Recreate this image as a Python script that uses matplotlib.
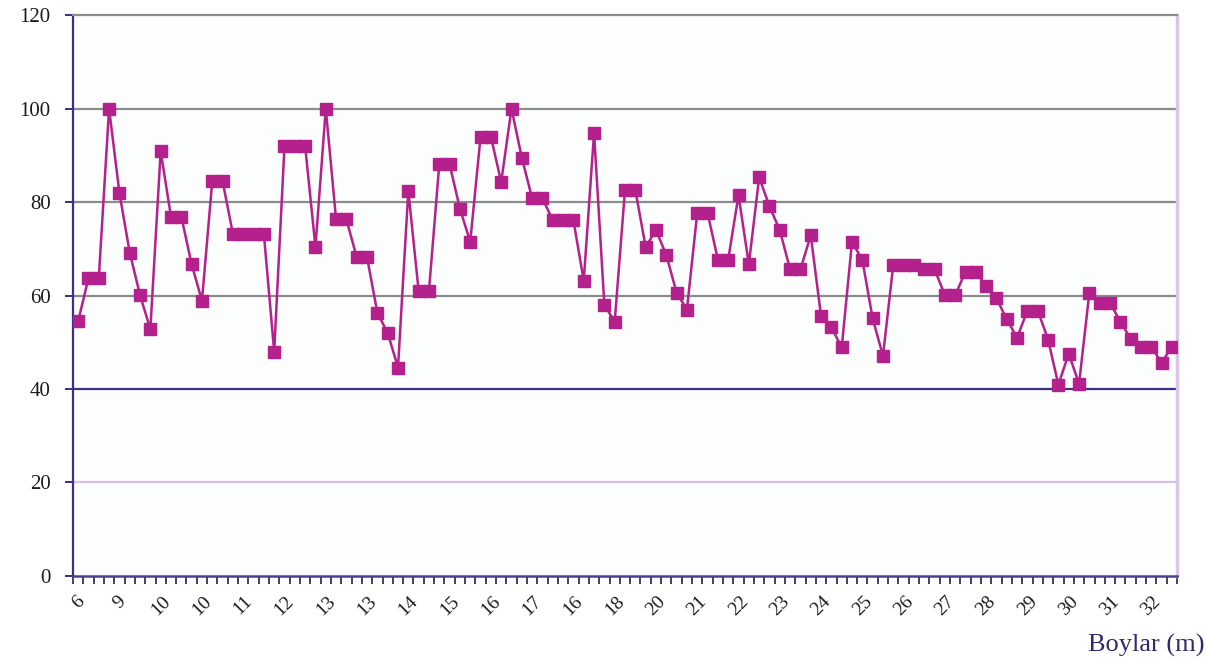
import matplotlib
matplotlib.use('Agg')
import matplotlib.pyplot as plt
from matplotlib.ticker import FixedLocator, NullFormatter

# boy (height) values, one per category
values = [
  54.5, 63.7, 63.7, 100, 82, 69.2, 60.1, 52.8, 90.9, 76.9,
  76.9, 66.7, 58.9, 84.5, 84.5, 73.2, 73.2, 73.2, 73.2, 48,
  92, 92, 92, 70.4, 100, 76.3, 76.3, 68.2, 68.2, 56.3,
  52, 44.6, 82.4, 61, 61, 88.1, 88.1, 78.6, 71.5, 94,
  94, 84.3, 100, 89.5, 80.8, 80.8, 76.1, 76.1, 76.1, 63.2,
  94.8, 58, 54.4, 82.6, 82.6, 70.4, 74, 68.7, 60.6, 57,
  77.7, 77.7, 67.7, 67.7, 81.5, 66.7, 85.3, 79.1, 74, 65.6,
  65.6, 72.9, 55.6, 53.2, 48.9, 71.5, 67.6, 55.1, 47.1, 66.6,
  66.6, 66.6, 65.6, 65.6, 60.1, 60.1, 65.1, 65.1, 62, 59.4,
  54.9, 51, 56.8, 56.8, 50.6, 40.9, 47.6, 41.1, 60.6, 58.5,
  58.5, 54.4, 50.8, 49.1, 49.1, 45.6, 49.1,
]

# labels shown on every 4th category
tick_labels = ['6', '9', '10', '10', '11', '12', '13', '13', '14', '15', '16', '17', '16', '18',
               '20', '21', '22', '23', '24', '25', '26', '27', '28', '29', '30', '31', '32']

yticks = [0, 20, 40, 60, 80, 100, 120]

plt.rcParams['font.family'] = ['Liberation Serif', 'DejaVu Serif']

fig = plt.figure(figsize = (12.06, 6.62), dpi = 100)
ax = fig.add_axes([0.0605, 0.130, 0.9155, 0.847])
ax.set_facecolor('#fcfdfd')

xs = list(range(len(values)))
ax.plot(xs, values, color = '#b5218c', linewidth = 1.8, marker = 's',
        markersize = 9, markerfacecolor = '#b5218c', markeredgecolor = '#b5218c', zorder = 3)

ax.set_xlim(-0.5, len(values) - 0.5)
ax.set_ylim(0, 120)

# gridlines (the 40 line is dark blue, the 20 line faint purple in the original)
grid_colors = {20: '#d6c3e2', 40: '#3b2f86', 60: '#8c8c8c', 80: '#8c8c8c', 100: '#8c8c8c'}
for yv, c in grid_colors.items():
  ax.axhline(yv, color = c, linewidth = 1.6, zorder = 1)

ax.spines['top'].set_color('#8c8c8c')
ax.spines['top'].set_linewidth(1.6)
ax.spines['right'].set_color('#dcc6e6')
ax.spines['right'].set_linewidth(2.5)
ax.spines['left'].set_color('#3b2f86')
ax.spines['left'].set_linewidth(1.6)
ax.spines['bottom'].set_color('#4b3f90')
ax.spines['bottom'].set_linewidth(1.8)

ax.set_yticks(yticks)
ax.set_yticklabels([str(v) for v in yticks], fontsize = 15, color = '#1a1a1a')
ax.tick_params(axis = 'y', length = 6, width = 1.4, color = '#3b2f86', pad = 10)

# category boundary ticks + labels every 4 categories
ax.xaxis.set_minor_locator(FixedLocator([i - 0.5 for i in range(len(values) + 1)]))
ax.xaxis.set_minor_formatter(NullFormatter())
ax.set_xticks(list(range(0, len(values), 4)))
ax.set_xticklabels(tick_labels, rotation = 45, ha = 'center', va = 'top', fontsize = 14, color = '#1a1a1a')
ax.tick_params(axis = 'x', which = 'major', length = 0, pad = 12)
ax.tick_params(axis = 'x', which = 'minor', length = 6, width = 1.3, color = '#333355')

fig.text(0.999, 0.008, 'Boylar (m)', ha = 'right', va = 'bottom', fontsize = 19, color = '#2b2b6b')

plt.savefig('out.png', dpi = 100)
